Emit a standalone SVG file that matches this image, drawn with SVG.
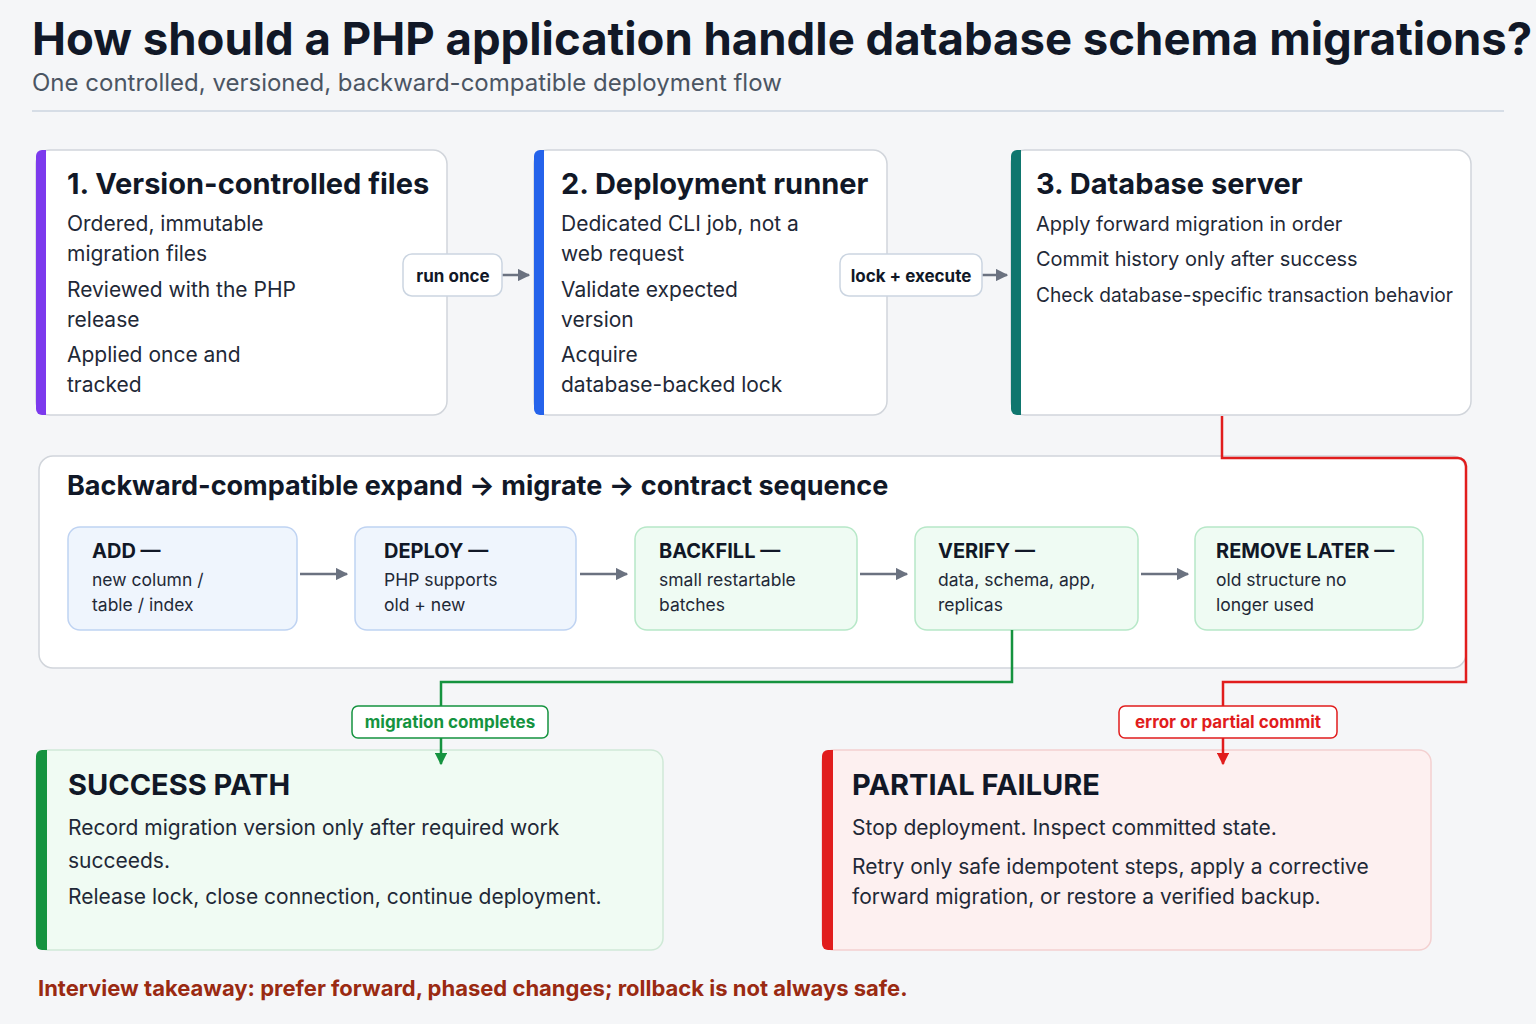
<svg xmlns="http://www.w3.org/2000/svg" width="1536" height="1024" viewBox="0 0 1536 1024">
<defs>
<style>
text{font-family:Inter,"Noto Sans","Liberation Sans",sans-serif;fill:#111827}
.h{font-size:29px;font-weight:700}
.b{font-size:21px;fill:#1f2937}
.b3{font-size:20px;fill:#1f2937}
.card{fill:#fff;stroke:#d1d5db;stroke-width:1.5}
.st{font-size:20px;font-weight:700}
.ss{font-size:17.5px;fill:#1f2937}
.lbl{fill:#fff;stroke:#cbd5e1;stroke-width:1.5}
.lt{font-size:17px;font-weight:700;text-anchor:middle}
.g{stroke:#6b7280;stroke-width:2.5;fill:none}
</style>
<marker id="ag" viewBox="0 0 10 10" refX="9" refY="5" markerWidth="5" markerHeight="5" orient="auto"><path d="M0,0L10,5L0,10z" fill="#6b7280"/></marker>
<marker id="agr" viewBox="0 0 10 10" refX="9" refY="5" markerWidth="5" markerHeight="5" orient="auto"><path d="M0,0L10,5L0,10z" fill="#15933f"/></marker>
<marker id="ard" viewBox="0 0 10 10" refX="9" refY="5" markerWidth="5" markerHeight="5" orient="auto"><path d="M0,0L10,5L0,10z" fill="#e11d1d"/></marker>
</defs>
<rect width="1536" height="1024" fill="#f5f6f8"/>
<text x="32" y="55" style="font-size:45.5px;font-weight:700">How should a PHP application handle database schema migrations?</text>
<text x="32" y="91" style="font-size:24px;fill:#4b5563">One controlled, versioned, backward-compatible deployment flow</text>
<line x1="32" y1="111" x2="1504" y2="111" stroke="#cbd5e1" stroke-width="1.5"/>

<g id="n1">
<rect class="card" x="36" y="150" width="411" height="265" rx="14"/>
<path d="M46,150h-4a6,6 0 0 0 -6,6v253a6,6 0 0 0 6,6h4z" fill="#7c3aed"/>
<text class="h" x="67" y="194">1. Version-controlled files</text>
<text class="b" x="67" y="231">Ordered, immutable</text>
<text class="b" x="67" y="261">migration files</text>
<text class="b" x="67" y="297">Reviewed with the PHP</text>
<text class="b" x="67" y="327">release</text>
<text class="b" x="67" y="362">Applied once and</text>
<text class="b" x="67" y="392">tracked</text>
</g>
<g id="n2">
<rect class="card" x="534" y="150" width="353" height="265" rx="14"/>
<path d="M544,150h-4a6,6 0 0 0 -6,6v253a6,6 0 0 0 6,6h4z" fill="#2563eb"/>
<text class="h" x="561" y="194">2. Deployment runner</text>
<text class="b" x="561" y="231">Dedicated CLI job, not a</text>
<text class="b" x="561" y="261">web request</text>
<text class="b" x="561" y="297">Validate expected</text>
<text class="b" x="561" y="327">version</text>
<text class="b" x="561" y="362">Acquire</text>
<text class="b" x="561" y="392">database-backed lock</text>
</g>
<g id="n3">
<rect class="card" x="1011" y="150" width="460" height="265" rx="14"/>
<path d="M1021,150h-4a6,6 0 0 0 -6,6v253a6,6 0 0 0 6,6h4z" fill="#0f766e"/>
<text class="h" x="1036" y="194">3. Database server</text>
<text class="b3" x="1036" y="231">Apply forward migration in order</text>
<text class="b3" x="1036" y="266">Commit history only after success</text>
<text class="b3" x="1036" y="302" textLength="417" lengthAdjust="spacingAndGlyphs">Check database-specific transaction behavior</text>
</g>

<g id="seq">
<rect class="card" x="39" y="456" width="1427" height="212" rx="14"/>
<text x="67" y="495" style="font-size:27px;font-weight:700">Backward-compatible expand → migrate → contract sequence</text>
</g>
<g id="s1"><rect x="68" y="527" width="229" height="103" rx="12" fill="#eff5fd" stroke="#bfd3f2" stroke-width="1.5"/>
<text class="st" x="92" y="558">ADD —</text><text class="ss" x="92" y="586">new column /</text><text class="ss" x="92" y="611">table / index</text></g>
<g id="s2"><rect x="355" y="527" width="221" height="103" rx="12" fill="#eff5fd" stroke="#bfd3f2" stroke-width="1.5"/>
<text class="st" x="384" y="558">DEPLOY —</text><text class="ss" x="384" y="586">PHP supports</text><text class="ss" x="384" y="611">old + new</text></g>
<g id="s3"><rect x="635" y="527" width="222" height="103" rx="12" fill="#effbf3" stroke="#b7e8c8" stroke-width="1.5"/>
<text class="st" x="659" y="558">BACKFILL —</text><text class="ss" x="659" y="586">small restartable</text><text class="ss" x="659" y="611">batches</text></g>
<g id="s4"><rect x="915" y="527" width="223" height="103" rx="12" fill="#effbf3" stroke="#b7e8c8" stroke-width="1.5"/>
<text class="st" x="938" y="558">VERIFY —</text><text class="ss" x="938" y="586">data, schema, app,</text><text class="ss" x="938" y="611">replicas</text></g>
<g id="s5"><rect x="1195" y="527" width="228" height="103" rx="12" fill="#effbf3" stroke="#b7e8c8" stroke-width="1.5"/>
<text class="st" x="1216" y="558">REMOVE LATER —</text><text class="ss" x="1216" y="586">old structure no</text><text class="ss" x="1216" y="611">longer used</text></g>

<g id="ok">
<rect x="36" y="750" width="627" height="200" rx="12" fill="#f0fbf3" stroke="#cfe9d7" stroke-width="1.5"/>
<path d="M47,750h-5a6,6 0 0 0 -6,6v188a6,6 0 0 0 6,6h5z" fill="#15933f"/>
<text x="68" y="795" style="font-size:29px;font-weight:700">SUCCESS PATH</text>
<text class="b" x="68" y="835">Record migration version only after required work</text>
<text class="b" x="68" y="868">succeeds.</text>
<text class="b" x="68" y="904">Release lock, close connection, continue deployment.</text>
</g>
<g id="fail">
<rect x="822" y="750" width="609" height="200" rx="12" fill="#fdf0f0" stroke="#f3d0d0" stroke-width="1.5"/>
<path d="M833,750h-5a6,6 0 0 0 -6,6v188a6,6 0 0 0 6,6h5z" fill="#e11d1d"/>
<text x="852" y="795" style="font-size:29px;font-weight:700">PARTIAL FAILURE</text>
<text class="b" x="852" y="835">Stop deployment. Inspect committed state.</text>
<text class="b" x="852" y="874">Retry only safe idempotent steps, apply a corrective</text>
<text class="b" x="852" y="904">forward migration, or restore a verified backup.</text>
</g>

<g id="connectors">
<path class="g" d="M502,275H529" marker-end="url(#ag)"/>
<path class="g" d="M982,275H1007" marker-end="url(#ag)"/>
<path class="g" d="M300,574H347" marker-end="url(#ag)"/>
<path class="g" d="M580,574H627" marker-end="url(#ag)"/>
<path class="g" d="M860,574H907" marker-end="url(#ag)"/>
<path class="g" d="M1141,574H1188" marker-end="url(#ag)"/>
<path d="M1012,630V682H441V764" fill="none" stroke="#15933f" stroke-width="2.5" marker-end="url(#agr)"/>
<path d="M1222,416V458H1458a8,8 0 0 1 8,8V682H1223V764" fill="none" stroke="#e11d1d" stroke-width="2.5" marker-end="url(#ard)"/>
<rect class="lbl" x="403" y="254" width="99" height="42" rx="9"/>
<text class="lt" x="453" y="282">run once</text>
<rect class="lbl" x="840" y="254" width="142" height="42" rx="9"/>
<text class="lt" x="911" y="282">lock + execute</text>
<rect x="352" y="706" width="196" height="32" rx="6" fill="#fff" stroke="#15933f" stroke-width="1.5"/>
<text class="lt" x="450" y="728" style="fill:#15933f">migration completes</text>
<rect x="1119" y="706" width="218" height="32" rx="6" fill="#fff" stroke="#e11d1d" stroke-width="1.5"/>
<text class="lt" x="1228" y="728" style="fill:#e11d1d">error or partial commit</text>
</g>
<text x="38" y="996" style="font-size:22px;font-weight:700;fill:#9a2a12">Interview takeaway: prefer forward, phased changes; rollback is not always safe.</text>
</svg>
